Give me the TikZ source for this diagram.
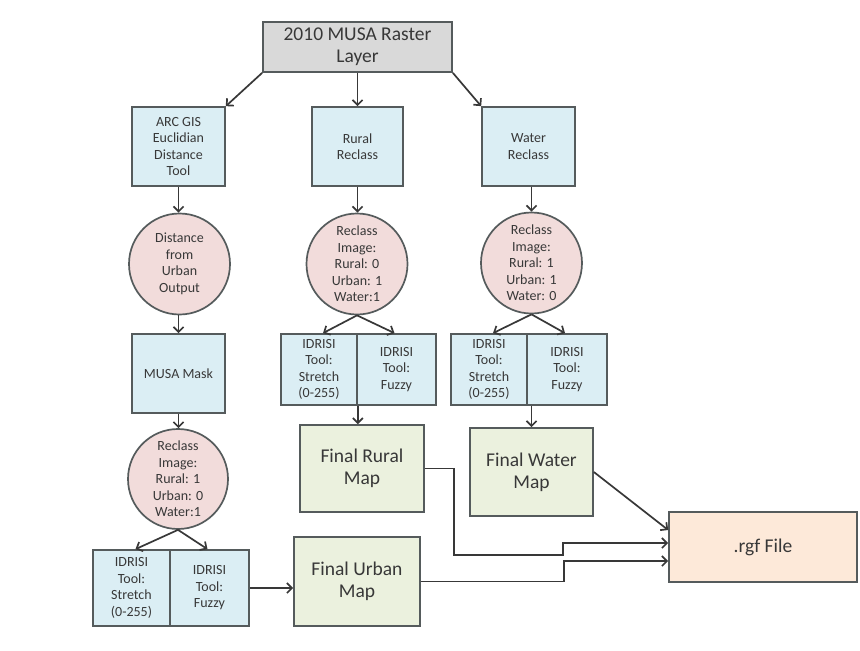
\documentclass[tikz,border=0pt]{standalone}
\usepackage{fontspec}
\setmainfont{Carlito}
\usetikzlibrary{arrows.meta,calc}
\definecolor{bluef}{HTML}{DBEEF4}
\definecolor{pinkf}{HTML}{F2DCDB}
\definecolor{greenf}{HTML}{EBF1DE}
\definecolor{orangef}{HTML}{FDE9D9}
\definecolor{grayf}{HTML}{D9D9D9}
\definecolor{edgec}{HTML}{555B5C}
\definecolor{txtc}{HTML}{383838}
\begin{document}
\begin{tikzpicture}[x=1pt,y=-1pt,
  base/.style={draw=edgec,line width=1.7pt,text=txtc,align=center,inner sep=1pt},
  small/.style={font=\fontsize{14}{16.5}\selectfont},
  large/.style={font=\fontsize{19.5}{22}\selectfont},
  bluebox/.style={base,small,fill=bluef},
  pinkcirc/.style={base,small,circle,fill=pinkf,minimum size=101pt},
  greenbox/.style={base,large,fill=greenf},
  arr/.style={draw=txtc,line width=1.7pt,-{Straight Barb[length=5pt,width=10pt,line width=1.7pt]}}]
\useasboundingbox (0,0) rectangle (860,651);
\fill[white] (0,0) rectangle (860,651);
% top
\node[base,large,fill=grayf,minimum width=189pt,minimum height=50pt] (top) at (357.5,47) {2010 MUSA Raster\\Layer};
% second row
\node[bluebox,minimum width=93pt,minimum height=79pt] (arc) at (178.5,146.5) {ARC GIS\\Euclidian\\Distance\\Tool};
\node[bluebox,minimum width=91pt,minimum height=79pt] (rural) at (357.5,146.5) {Rural\\Reclass};
\node[bluebox,minimum width=93pt,minimum height=79pt] (water) at (528.5,146.5) {Water\\Reclass};
% circles
\node[pinkcirc] (c1) at (179.5,264) {Distance\\from\\Urban\\Output};
\node[pinkcirc] (c2) at (357,264) {Reclass\\Image:\\Rural: 0\\Urban: 1\\Water:1};
\node[pinkcirc] (c3) at (531.5,263) {Reclass\\Image:\\Rural: 1\\Urban: 1\\Water: 0};
% mask
\node[bluebox,minimum width=93pt,minimum height=79pt] (mask) at (178.5,373.5) {MUSA Mask};
% IDRISI rural
\node[bluebox,minimum width=76pt,minimum height=71pt] (ri1) at (319,369.5) {IDRISI\\Tool:\\Stretch\\(0-255)};
\node[bluebox,minimum width=79pt,minimum height=71pt] (ri2) at (396.5,369.5) {IDRISI\\Tool:\\Fuzzy};
% IDRISI water
\node[bluebox,minimum width=76pt,minimum height=71pt] (wi1) at (489,369.5) {IDRISI\\Tool:\\Stretch\\(0-255)};
\node[bluebox,minimum width=80pt,minimum height=71pt] (wi2) at (567,369.5) {IDRISI\\Tool:\\Fuzzy};
% lower circle
\node[pinkcirc,minimum size=100pt] (c4) at (178,479) {Reclass\\Image:\\Rural: 1\\Urban: 0\\Water:1};
% IDRISI urban
\node[bluebox,minimum width=77pt,minimum height=76pt] (bi1) at (131.5,588) {IDRISI\\Tool:\\Stretch\\(0-255)};
\node[bluebox,minimum width=79pt,minimum height=76pt] (bi2) at (209.5,588) {IDRISI\\Tool:\\Fuzzy};
% final maps
\node[greenbox,minimum width=124pt,minimum height=87pt] (frural) at (362,468.5) {Final Rural\\Map};
\node[greenbox,minimum width=126pt,minimum height=89pt] (furban) at (357,581.5) {Final Urban\\Map};
\node[greenbox,minimum width=123pt,minimum height=88pt] (fwater) at (531.5,472) {Final Water\\Map};
\node[base,large,fill=orangef,minimum width=188pt,minimum height=70pt] (rgf) at (763,547) {.rgf File};
% connectors
\draw[arr] (top.south west) -- (arc.north east);
\draw[arr] (top.south) -- (rural.north);
\draw[arr] (top.south east) -- (water.north west);
\draw[arr] (arc.south) -- (arc.south |- c1.north);
\draw[arr] (rural.south) -- (rural.south |- c2.north);
\draw[arr] (water.south -| c3.north) -- (c3.north);
\draw[arr] (c1.south -| mask.north) -- (mask.north);
\draw[arr] (mask.south) -- (mask.south |- c4.north);
\draw[arr] (c2.south) -- ($(ri1.north)+(4,0)$);
\draw[arr] (c2.south) -- ($(ri2.north)+(-2,0)$);
\draw[arr] (c3.south) -- ($(wi1.north)+(4,0)$);
\draw[arr] (c3.south) -- ($(wi2.north)+(-2,0)$);
\draw[arr] (c4.south) -- ($(bi1.north)+(4,0)$);
\draw[arr] (c4.south) -- ($(bi2.north)+(-2,0)$);
\draw[arr] (ri1.south east) -- (ri1.south east |- frural.north);
\draw[arr] (wi2.south west -| fwater.north) -- (fwater.north);
\draw[arr] (bi2.east) -- (bi2.east -| furban.west);
\draw[arr] (frural.east) -| ++(29,86.5) -| ++(109,-12) -- ($(rgf.west)+(0,-4)$);
\draw[arr] (furban.east) -| ++(143,-20.5) -- ($(rgf.west)+(0,14)$);
\draw[arr] (fwater.east) -- ($(rgf.west)+(0,-17)$);
\end{tikzpicture}
\end{document}
